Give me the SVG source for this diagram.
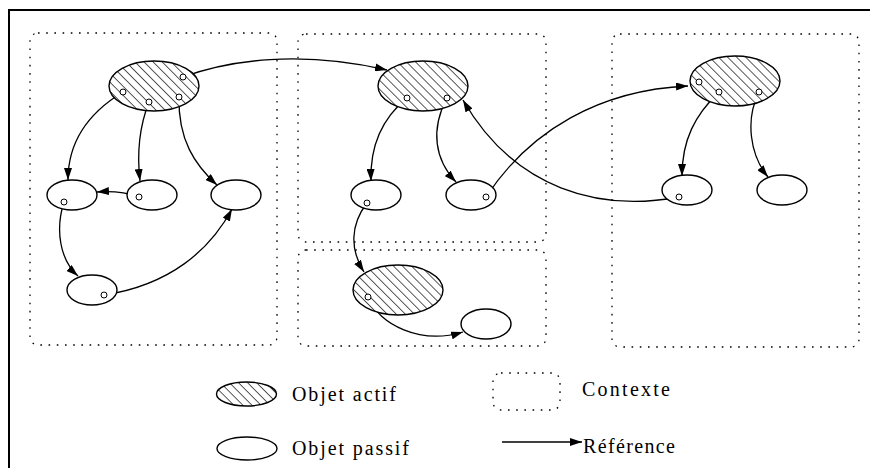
<svg xmlns="http://www.w3.org/2000/svg" width="870" height="468" viewBox="0 0 870 468">
<style>
.ctx{fill:none;stroke:#000;stroke-width:1.3;stroke-dasharray:1.6 6.6}
.act{fill:url(#hatch);stroke:#000;stroke-width:1.4}
.pas{fill:#fff;stroke:#000;stroke-width:1.4}
.port{fill:#fff;stroke:#000;stroke-width:1}
.ref{fill:none;stroke:#000;stroke-width:1.3;marker-end:url(#arr)}
.lbl{font-family:"Liberation Serif","DejaVu Serif",serif;font-size:20px;fill:#000}
</style>
<defs>
<pattern id="hatch" patternUnits="userSpaceOnUse" width="6.4" height="6.4" patternTransform="rotate(-45)">
<rect width="6.4" height="6.4" fill="#fff"/>
<line x1="0" y1="0" x2="0" y2="6.4" stroke="#000" stroke-width="1.3"/>
</pattern>
<marker id="arr" markerUnits="userSpaceOnUse" markerWidth="13" markerHeight="8" refX="12" refY="4" orient="auto">
<path d="M0,0 L12,4 L0,8 z" fill="#000"/>
</marker>
</defs>
<rect width="870" height="468" fill="#fff"/>
<rect x="9" y="10" width="880" height="480" fill="none" stroke="#000" stroke-width="2"/>

<g id="contexts">
<rect id="ctx1" class="ctx" x="30" y="33" width="247" height="312" rx="8"/>
<rect id="ctx2" class="ctx" x="298" y="34" width="248" height="208" rx="8"/>
<rect id="ctx3" class="ctx" x="298" y="250" width="248" height="96" rx="8"/>
<rect id="ctx4" class="ctx" x="612" y="34" width="247" height="313" rx="8"/>
</g>

<g id="connectors">
<path class="ref" d="M123,92 C90,112 68,140 68,180"/>
<path class="ref" d="M149,102 C138,130 137,155 140,181"/>
<path class="ref" d="M179,97 C178,140 195,165 217,185"/>
<path class="ref" d="M183,77 C230,60 300,50 387,70"/>
<path class="ref" d="M139,197 C125,192 110,191 97,192"/>
<path class="ref" d="M64,202 C55,230 60,260 78,276"/>
<path class="ref" d="M104,295 C170,285 210,250 232,209"/>
<path class="ref" d="M407,98 C380,120 370,150 371,181"/>
<path class="ref" d="M447,98 C430,130 435,160 456,182"/>
<path class="ref" d="M486,197 C530,130 600,90 688,86"/>
<path class="ref" d="M679,197 C600,212 515,190 463,100"/>
<path class="ref" d="M719,92 C695,115 682,140 682,176"/>
<path class="ref" d="M759,92 C745,120 750,155 768,177"/>
<path class="ref" d="M367,203 C350,225 350,250 364,272"/>
<path class="ref" d="M368,297 C380,325 420,345 463,332"/>
</g>

<g id="A1"><ellipse class="act" cx="154" cy="86" rx="45" ry="25"/><circle class="port" cx="123" cy="92" r="3"/><circle class="port" cx="149" cy="102" r="3"/><circle class="port" cx="179" cy="97" r="3"/><circle class="port" cx="183" cy="77" r="3"/></g>
<g id="A2"><ellipse class="act" cx="423" cy="86" rx="45" ry="25"/><circle class="port" cx="407" cy="98" r="3"/><circle class="port" cx="447" cy="98" r="3"/></g>
<g id="A3"><ellipse class="act" cx="735" cy="81" rx="45" ry="25"/><circle class="port" cx="699" cy="82" r="3"/><circle class="port" cx="719" cy="92" r="3"/><circle class="port" cx="759" cy="92" r="3"/></g>
<g id="A4"><ellipse class="act" cx="398" cy="290" rx="45" ry="25"/><circle class="port" cx="368" cy="297" r="3"/></g>

<g id="P1"><ellipse class="pas" cx="72" cy="195" rx="25" ry="15"/><circle class="port" cx="64" cy="202" r="3"/></g>
<g id="P2"><ellipse class="pas" cx="152" cy="195" rx="25" ry="15"/><circle class="port" cx="139" cy="197" r="3"/></g>
<g id="P3"><ellipse class="pas" cx="236" cy="195" rx="25" ry="15"/></g>
<g id="P4"><ellipse class="pas" cx="92" cy="290" rx="25" ry="15"/><circle class="port" cx="104" cy="295" r="3"/></g>
<g id="P5"><ellipse class="pas" cx="376" cy="195" rx="25" ry="15"/><circle class="port" cx="367" cy="203" r="3"/></g>
<g id="P6"><ellipse class="pas" cx="471" cy="195" rx="25" ry="15"/><circle class="port" cx="486" cy="197" r="3"/></g>
<g id="P7"><ellipse class="pas" cx="486" cy="324" rx="25" ry="15"/></g>
<g id="P8"><ellipse class="pas" cx="687" cy="190" rx="25" ry="15"/><circle class="port" cx="679" cy="197" r="3"/></g>
<g id="P9"><ellipse class="pas" cx="782" cy="190" rx="25" ry="15"/></g>

<g id="legend">
<ellipse class="act" cx="246.5" cy="394" rx="30" ry="12"/>
<text class="lbl" x="292" y="401" textLength="104" lengthAdjust="spacing">Objet actif</text>
<ellipse class="pas" cx="247" cy="448.5" rx="30" ry="11.5"/>
<text class="lbl" x="292" y="455" textLength="117" lengthAdjust="spacing">Objet passif</text>
<rect class="ctx" x="493" y="373" width="67" height="37" rx="8"/>
<text class="lbl" x="582" y="396" textLength="88" lengthAdjust="spacing">Contexte</text>
<path class="ref" d="M502,442 L582,442"/>
<text class="lbl" x="583" y="453" textLength="92" lengthAdjust="spacing">Référence</text>
</g>
</svg>
